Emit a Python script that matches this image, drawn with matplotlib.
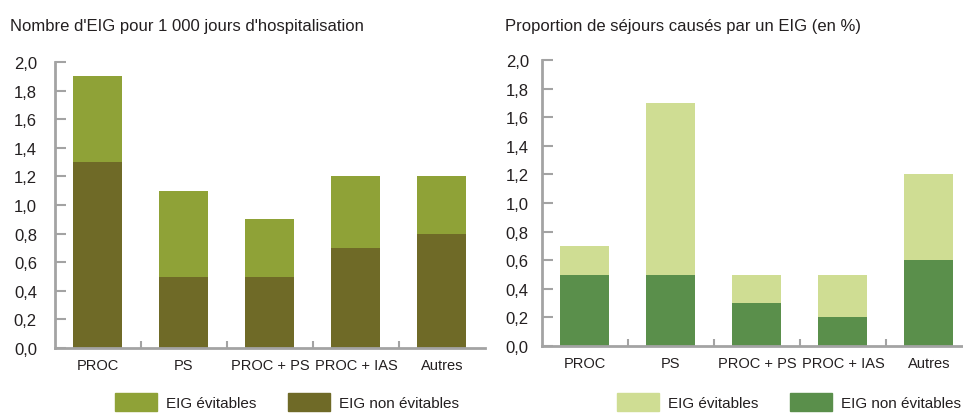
import numpy as np
import matplotlib
matplotlib.use("Agg")
import matplotlib.pyplot as plt
from matplotlib.patches import Patch

categories = ["PROC", "PS", "PROC + PS", "PROC + IAS", "Autres"]
yticks = [0.0, 0.2, 0.4, 0.6, 0.8, 1.0, 1.2, 1.4, 1.6, 1.8, 2.0]

# Nombre d'EIG pour 1 000 jours d'hospitalisation
jours_non_evitables = [1.3, 0.5, 0.5, 0.7, 0.8]
jours_evitables = [0.6, 0.6, 0.4, 0.5, 0.4]

# Proportion de séjours causés par un EIG (en %)
sejours_non_evitables = [0.5, 0.5, 0.3, 0.2, 0.6]
sejours_evitables = [0.2, 1.2, 0.2, 0.3, 0.6]

plt.rcParams['font.family'] = ['Liberation Sans', 'DejaVu Sans']
TEXT = "#231f20"
SPINE = "#a3a3a3"

fig = plt.figure(figsize=(9.63, 4.14), dpi=100)


def draw_panel(rect, title, bottom_vals, top_vals, c_bottom, c_top, title_x, legend_x, ypad):
    ax = fig.add_axes(rect)
    x = np.arange(len(categories))
    ax.bar(x, bottom_vals, width=0.57, color=c_bottom, linewidth=0)
    ax.bar(x, top_vals, width=0.57, bottom=bottom_vals, color=c_top, linewidth=0)
    ax.set_xlim(-0.5, len(categories) - 0.5)
    ax.set_ylim(0, 2.0)
    ax.set_yticks(yticks)
    ax.set_yticklabels([f"{v:.1f}".replace(".", ",") for v in yticks])
    ax.set_xticks(x)
    ax.set_xticklabels(categories)
    ax.set_xticks(np.arange(0.5, len(categories) - 0.5, 1.0), minor=True)
    ax.tick_params(axis='x', which='major', length=0, labelsize=10.5, colors=TEXT, pad=7)
    ax.tick_params(axis='x', which='minor', direction='in', length=5, width=1.5, color=SPINE)
    ax.tick_params(axis='y', direction='in', length=8, width=1.5, color=SPINE,
                   labelsize=12, labelcolor=TEXT, pad=ypad)
    for s in ['top', 'right']:
        ax.spines[s].set_visible(False)
    for s in ['left', 'bottom']:
        ax.spines[s].set_color(SPINE)
        ax.spines[s].set_linewidth(2)
    fig.text(title_x, 1 - 31 / 414, title, fontsize=12, color=TEXT, ha='left', va='baseline')
    handles = [Patch(color=c_top, label="EIG évitables"),
               Patch(color=c_bottom, label="EIG non évitables")]
    fig.legend(handles=handles, loc='lower left', bbox_to_anchor=(legend_x, 0.0),
               ncol=2, frameon=False, fontsize=11, handlelength=2.75, handleheight=1.45,
               columnspacing=2.1, handletextpad=0.6, labelcolor=TEXT,
               borderpad=0, borderaxespad=0.1)
    return ax


draw_panel([0.0571, 0.157, 0.4465, 0.6908], "Nombre d'EIG pour 1 000 jours d'hospitalisation",
           jours_non_evitables, jours_evitables, "#6f6a27", "#8fa237", 10 / 963, 113 / 963, 13)
draw_panel([0.5628, 0.1618, 0.4465, 0.6909], "Proportion de séjours causés par un EIG (en %)",
           sejours_non_evitables, sejours_evitables, "#5a8f4b", "#cfdd93", 505 / 963, 615 / 963, 9.5)

fig.savefig("out.png", dpi=100)
